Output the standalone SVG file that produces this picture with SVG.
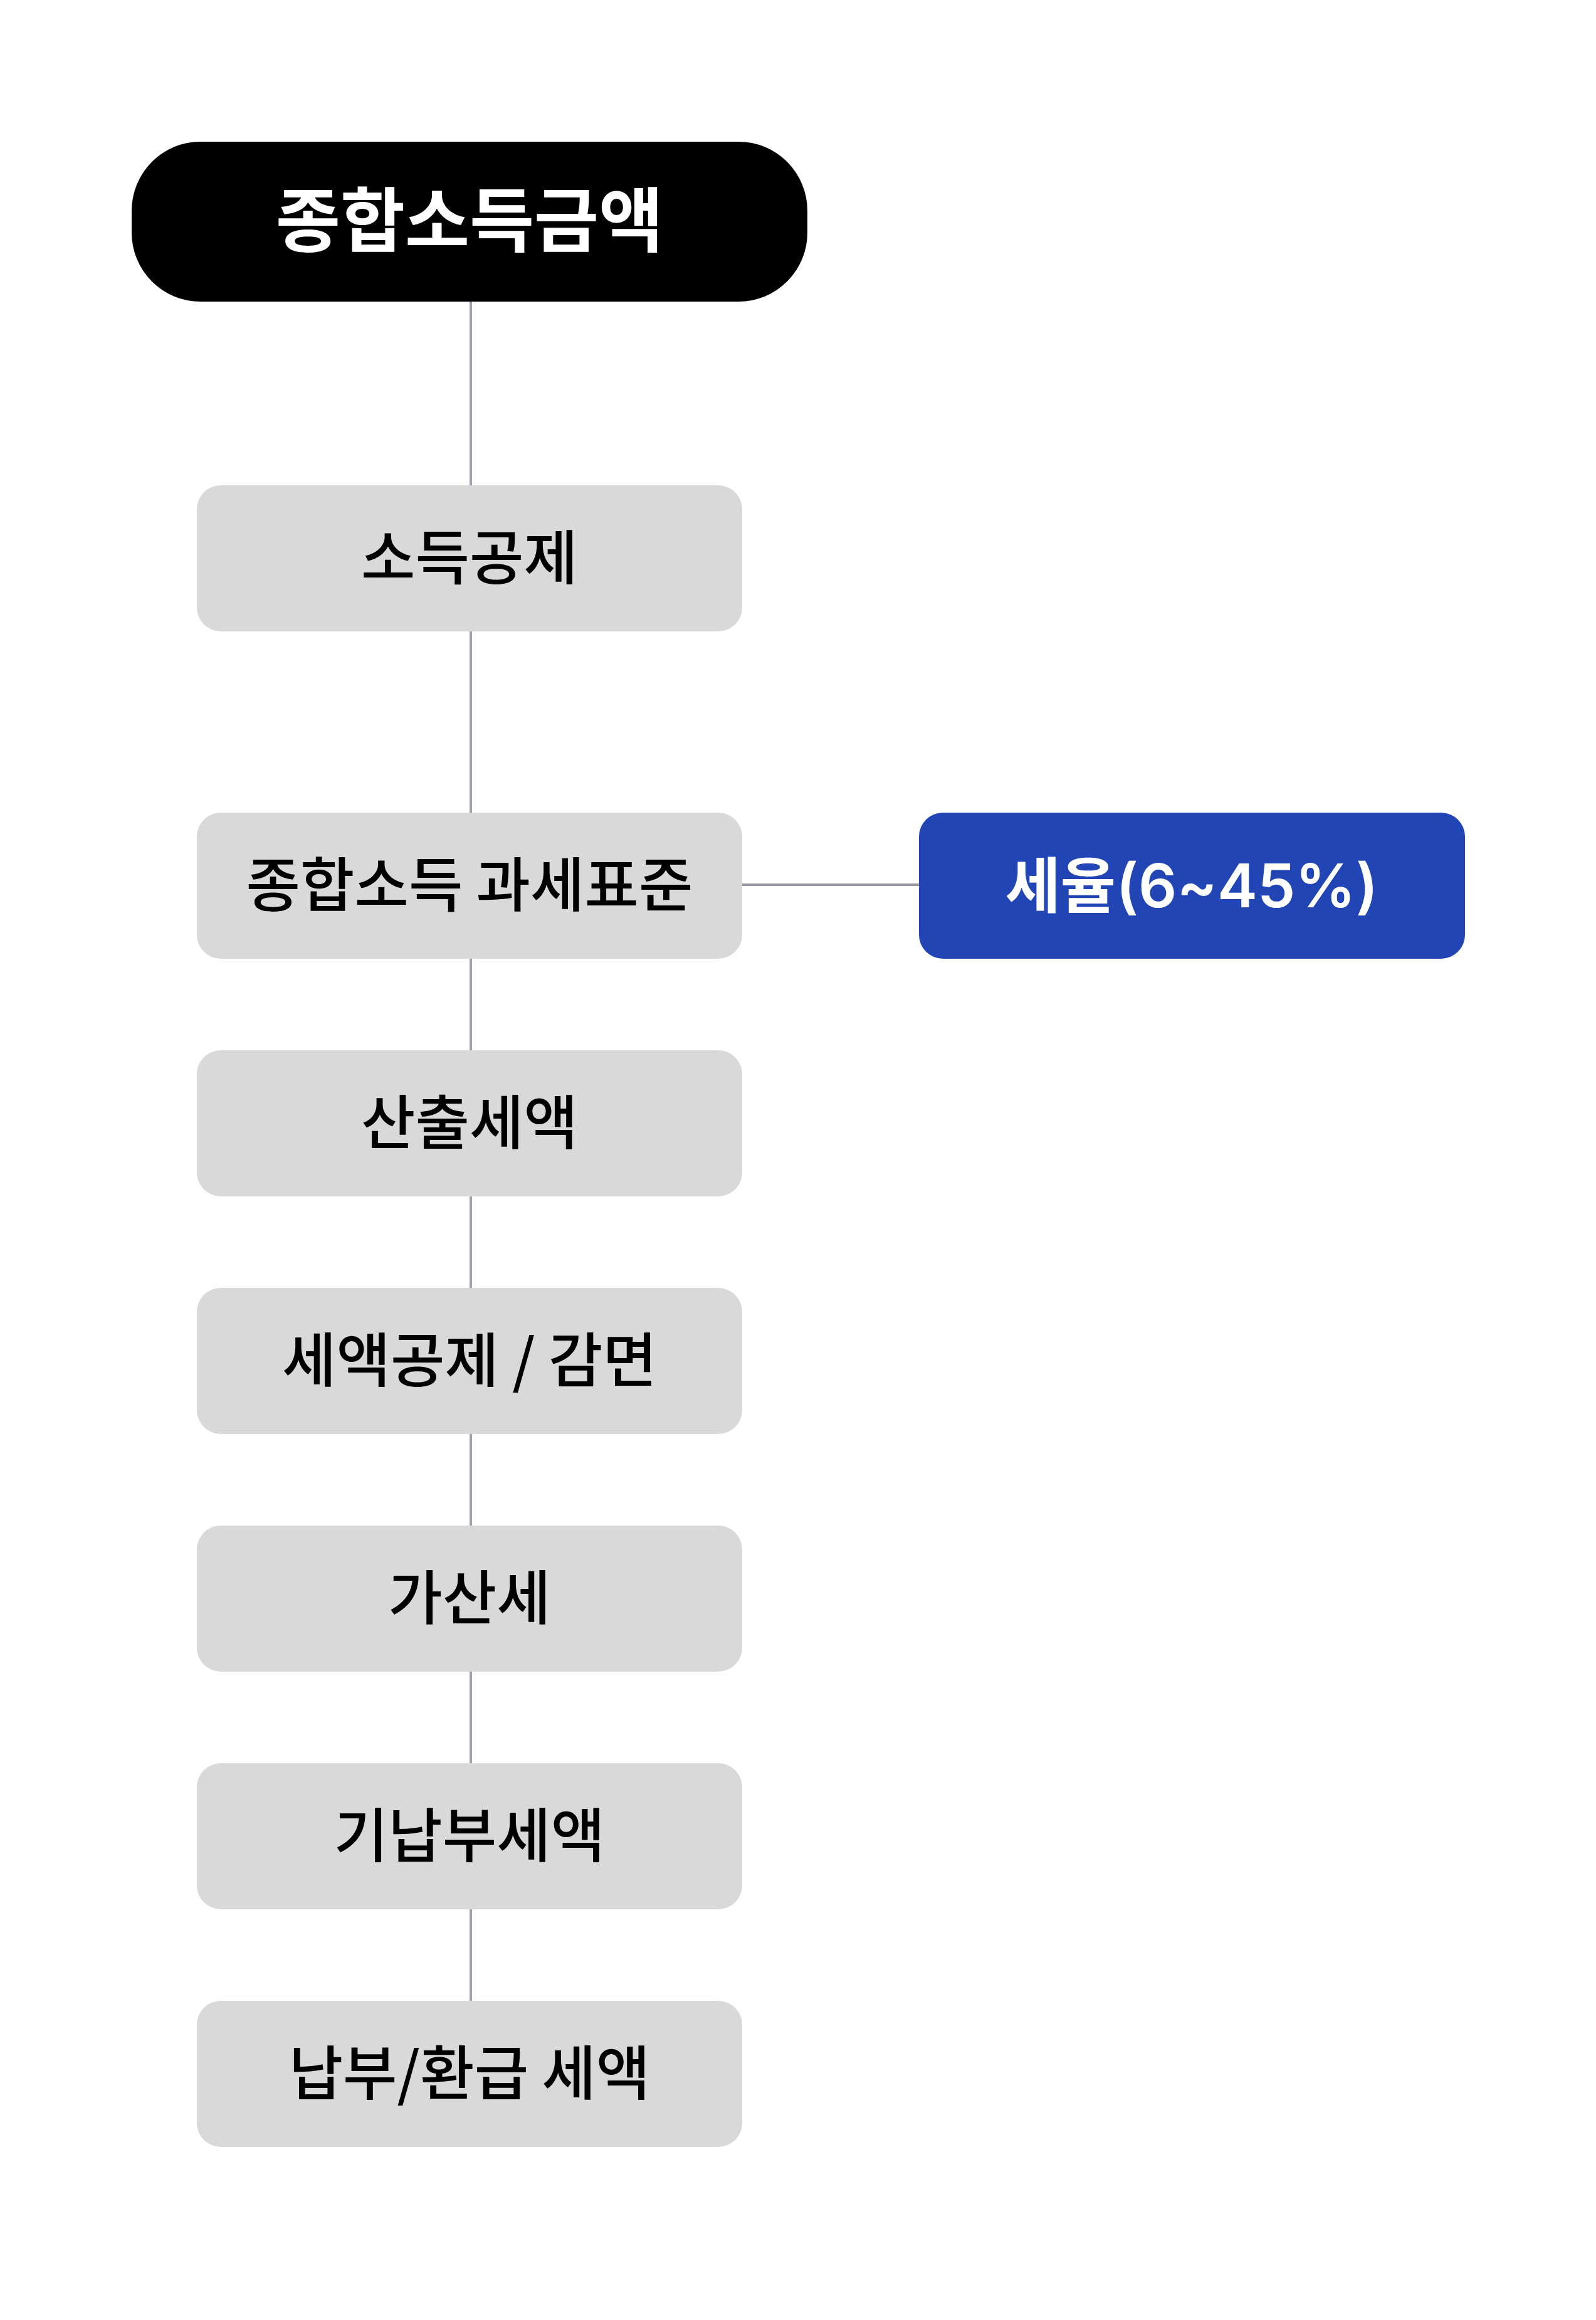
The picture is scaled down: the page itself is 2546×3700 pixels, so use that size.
<svg xmlns="http://www.w3.org/2000/svg" width="2546" height="3700" viewBox="0 0 2546 3700">
<style>
.box{fill:#D9D9D9}
.lbl{font-family:"Noto Sans CJK KR","Noto Sans",sans-serif;font-size:94px;font-weight:500;fill:#000;text-anchor:middle}
.top{font-family:"Noto Sans CJK KR","Noto Sans",sans-serif;font-size:112px;font-weight:700;fill:#fff;text-anchor:middle}
.rate{font-family:Inter,"Noto Sans CJK KR",sans-serif;font-size:96px;font-weight:600;fill:#fff;text-anchor:middle}
.conn{stroke:#A2A2AE;stroke-width:4;fill:none}
</style>
<rect x="0" y="0" width="2546" height="3700" fill="#FFFFFF"/>
<g id="connectors">
<line class="conn" x1="751" y1="481" x2="751" y2="774"/>
<line class="conn" x1="751" y1="1007" x2="751" y2="1296"/>
<line class="conn" x1="751" y1="1529" x2="751" y2="1675"/>
<line class="conn" x1="751" y1="1908" x2="751" y2="2054"/>
<line class="conn" x1="751" y1="2287" x2="751" y2="2433"/>
<line class="conn" x1="751" y1="2666" x2="751" y2="2812"/>
<line class="conn" x1="751" y1="3045" x2="751" y2="3191"/>
<line class="conn" x1="1184" y1="1411" x2="1466" y2="1411" style="stroke:#9A9AA6"/>
</g>
<g id="node-total">
<rect x="210" y="226" width="1078" height="255" rx="110" ry="110" fill="#000"/>
<text class="top" x="749" y="393">종합소득금액</text>
</g>
<g id="node-deduction">
<rect class="box" x="314" y="774" width="870" height="233" rx="38"/>
<text class="lbl" x="749" y="924">소득공제</text>
</g>
<g id="node-taxbase">
<rect class="box" x="314" y="1296" width="870" height="233" rx="38"/>
<text class="lbl" x="749" y="1446">종합소득 과세표준</text>
</g>
<g id="node-rate">
<rect x="1466" y="1296" width="871" height="233" rx="38" fill="#2145B5"/>
<text class="rate" x="1901" y="1447">세율(6~45%)</text>
</g>
<g id="node-calculated">
<rect class="box" x="314" y="1675" width="870" height="233" rx="38"/>
<text class="lbl" x="749" y="1825">산출세액</text>
</g>
<g id="node-credit">
<rect class="box" x="314" y="2054" width="870" height="233" rx="38"/>
<text class="lbl" x="749" y="2204">세액공제 / 감면</text>
</g>
<g id="node-penalty">
<rect class="box" x="314" y="2433" width="870" height="233" rx="38"/>
<text class="lbl" x="749" y="2583">가산세</text>
</g>
<g id="node-prepaid">
<rect class="box" x="314" y="2812" width="870" height="233" rx="38"/>
<text class="lbl" x="749" y="2962">기납부세액</text>
</g>
<g id="node-final">
<rect class="box" x="314" y="3191" width="870" height="233" rx="38"/>
<text class="lbl" x="749" y="3341">납부/환급 세액</text>
</g>
</svg>
